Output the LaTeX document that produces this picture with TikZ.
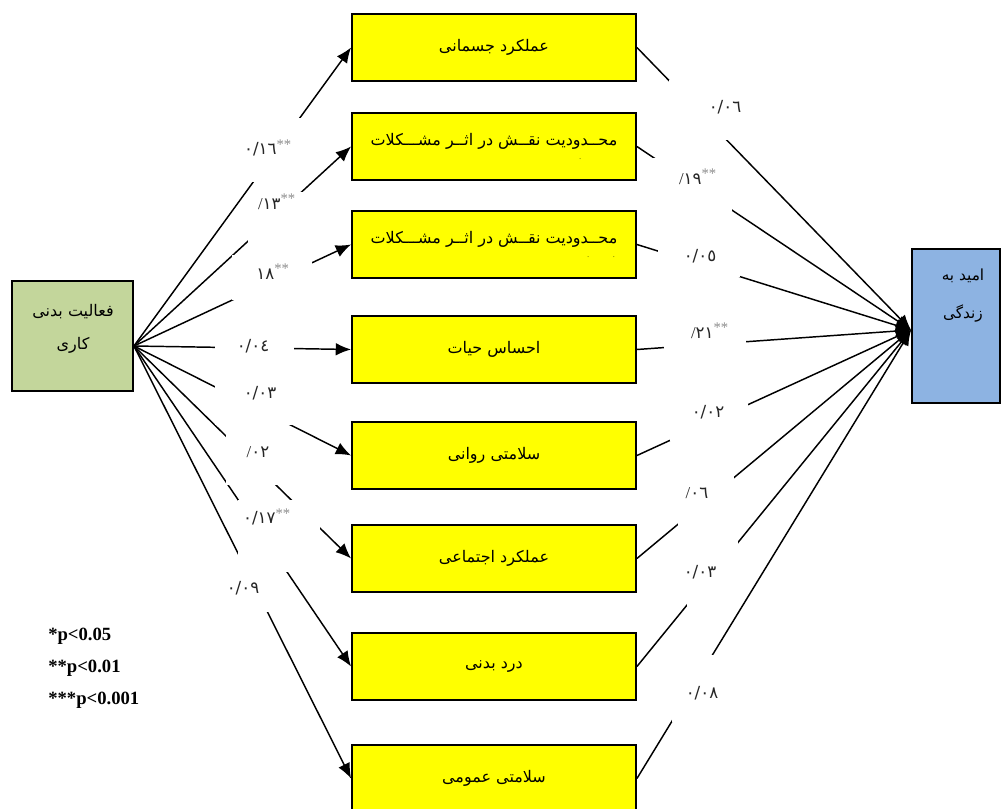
\documentclass[tikz,border=0pt]{standalone}
\usepackage{fontspec}
\setmainfont{Liberation Serif}
\newfontfamily\arabicfont[Script=Arabic]{DejaVu Sans}
\TeXXeTstate=1
\usetikzlibrary{arrows.meta}

% Persian text runs right to left; coefficients are plain digit strings
\newcommand\fa[1]{{\arabicfont\beginR #1\endR}}
\newcommand\num[1]{{\arabicfont #1}}
\newcommand\sig{\textsuperscript{\color{black!45}\fontsize{11}{11}\selectfont**}}

\definecolor{boxyellow}{HTML}{FFFF00}
\definecolor{boxgreen}{HTML}{C3D69B}
\definecolor{boxblue}{HTML}{8DB3E2}

\begin{document}
\begin{tikzpicture}[x=0.75pt,y=-0.75pt,
  factor/.style={draw=black, line width=1.4pt, fill=boxyellow,
    minimum width=213pt, minimum height=50.25pt, inner sep=0pt,
    font=\fontsize{12}{14}\selectfont},
  endbox/.style={draw=black, line width=1.4pt, inner sep=0pt},
  boxlabel/.style={align=center, inner sep=0pt},
  link/.style={line width=1.1pt, -{Latex[length=11.5pt,width=9.5pt]}},
  mask/.style={fill=white},
  coef/.style={inner sep=0pt, text=black!85, font=\fontsize{12.5}{14}\selectfont},
  note/.style={anchor=west, inner sep=0pt, font=\bfseries\fontsize{14}{16}\selectfont}
]
\clip (0,0) rectangle (1003,809);
\useasboundingbox (0,0) rectangle (1003,809);

% independent and dependent variables
\node[endbox, fill=boxgreen, minimum width=90.75pt, minimum height=82.5pt] (src) at (72.5,336) {};
\node[endbox, fill=boxblue, minimum width=66pt, minimum height=115.5pt] (dst) at (956,326) {};

% mediating factors
\node[factor] (b1) at (494,47.5) {\fa{عملکرد جسمانی}};
\node[factor, align=center] (b2) at (494,146.5)
  {\fa{محــدودیت نقــش در اثــر مشـــکلات}\\[-3pt]\makebox[0pt][l]{\hspace*{64pt}\tiny.}};
\node[factor, align=center] (b3) at (494,244.5)
  {\fa{محــدودیت نقــش در اثــر مشـــکلات}\\[-3pt]\makebox[0pt][l]{\hspace*{70pt}\tiny.\hspace*{18pt}.}};
\node[factor] (b4) at (494,349.5) {\fa{احساس حیات}};
\node[factor] (b5) at (494,455.5) {\fa{سلامتی روانی}};
\node[factor] (b6) at (494,558.5) {\fa{عملکرد اجتماعی}};
\node[factor] (b7) at (494,666.5) {\fa{درد بدنی}};
\node[factor] (b8) at (494,778.5) {\fa{سلامتی عمومی}};

\coordinate (fan) at ([yshift=-7.5pt]src.east);
\coordinate (sink) at ([yshift=-3pt]dst.west);

% paths
\foreach \b in {b1,b2,b3,b4,b5,b6,b7,b8} {
  \draw[link] (fan) -- (\b.west);
  \draw[link] (\b.east) -- (sink);
}

% white text boxes that interrupt the paths
\fill[mask] (236,118) rectangle (302,182);
\fill[mask] (248,192) rectangle (310,250);
\fill[mask] (232,255) rectangle (312,300);
\fill[mask] (215,330) rectangle (294,362);
\fill[mask] (215,370) rectangle (294,425);
\fill[mask] (226,432) rectangle (280,485);
\fill[mask] (238,500) rectangle (320,572);
\fill[mask] (215,560) rectangle (275,612);
\fill[mask] (669,80) rectangle (760,140);
\fill[mask] (651,158) rectangle (732,214);
\fill[mask] (658,240) rectangle (740,277);
\fill[mask] (664,318) rectangle (746,350);
\fill[mask] (670,395) rectangle (748,441);
\fill[mask] (678,476) rectangle (734,527);
\fill[mask] (687,540) rectangle (738,608);
\fill[mask] (672,655) rectangle (735,722);

% path coefficients
\node[coef] (c1) at (268,148) {\num{٠/١٦}\sig};
\node[coef] (c2) at (277,202) {/\num{١٣}\sig};
\node[coef] (c3) at (273,272) {\num{١٨}\sig};
\node[coef] (c4) at (253,346) {\num{٠/٠٤}};
\node[coef] (c5) at (260,393) {\num{٠/٠٣}};
\node[coef] (c6) at (258,452) {/\num{٠٢}};
\node[coef] (c7) at (267,517) {\num{٠/١٧}\sig};
\node[coef] (c8) at (243,588) {\num{٠/٠٩}};
\node[coef] (d1) at (725,107) {\num{٠/٠٦}};
\node[coef] (d2) at (698,177) {/\num{١٩}\sig};
\node[coef] (d3) at (700,256) {\num{٠/٠٥}};
\node[coef] (d4) at (710,331) {/\num{٢١}\sig};
\node[coef] (d5) at (708,412) {\num{٠/٠٢}};
\node[coef] (d6) at (697,493) {/\num{٠٦}};
\node[coef] (d7) at (700,572) {\num{٠/٠٣}};
\node[coef] (d8) at (702,693) {\num{٠/٠٨}};

% labels of the end variables
\node[boxlabel, font=\fontsize{12}{24.75}\selectfont] (srctext) at (73,329)
  {\fa{فعالیت بدنی}\\\fa{کاری}};
\node[boxlabel, font=\fontsize{11.5}{28.5}\selectfont] (dsttext) at (963,296)
  {\fa{امید به}\\\fa{زندگی}};

% significance levels
\node[note] (p1) at (48,636) {*p<0.05};
\node[note] (p2) at (48,668) {**p<0.01};
\node[note] (p3) at (48,700) {***p<0.001};
\end{tikzpicture}
\end{document}
